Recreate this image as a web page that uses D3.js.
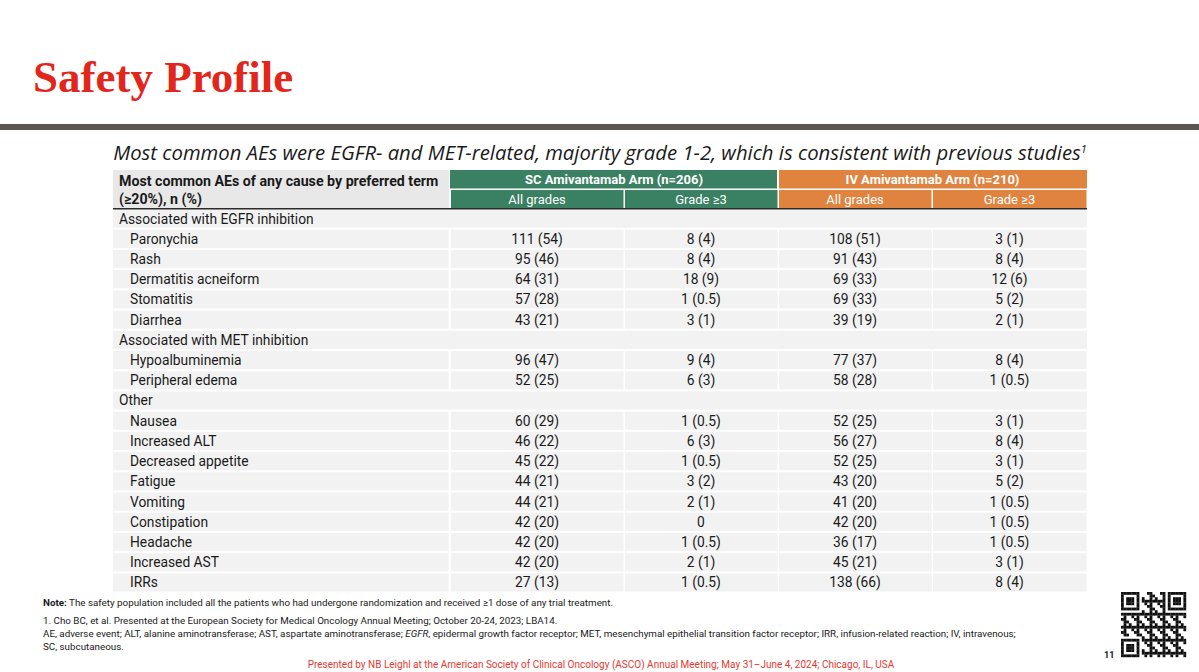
<!DOCTYPE html>
<html>
<head>
<meta charset="utf-8">
<script src="https://cdn.jsdelivr.net/npm/d3@7"></script>
<style>
  body { margin: 0; background: #fff; }
  svg { display: block; }
</style>
</head>
<body>
<script>
// table content
var groups = ["Associated with EGFR inhibition", "Associated with MET inhibition", "Other"];
var groupTerms = [
  ["Paronychia", "Rash", "Dermatitis acneiform", "Stomatitis", "Diarrhea"],
  ["Hypoalbuminemia", "Peripheral edema"],
  ["Nausea", "Increased ALT", "Decreased appetite", "Fatigue", "Vomiting", "Constipation", "Headache", "Increased AST", "IRRs"]
];
var scAll = ["111 (54)", "95 (46)", "64 (31)", "57 (28)", "43 (21)", "96 (47)", "52 (25)", "60 (29)", "46 (22)", "45 (22)", "44 (21)", "44 (21)", "42 (20)", "42 (20)", "42 (20)", "27 (13)"];
var scG3 = ["8 (4)", "8 (4)", "18 (9)", "1 (0.5)", "3 (1)", "9 (4)", "6 (3)", "1 (0.5)", "6 (3)", "1 (0.5)", "3 (2)", "2 (1)", "0", "1 (0.5)", "2 (1)", "1 (0.5)"];
var ivAll = ["108 (51)", "91 (43)", "69 (33)", "69 (33)", "39 (19)", "77 (37)", "58 (28)", "52 (25)", "56 (27)", "52 (25)", "43 (20)", "41 (20)", "42 (20)", "36 (17)", "45 (21)", "138 (66)"];
var ivG3 = ["3 (1)", "8 (4)", "12 (6)", "5 (2)", "2 (1)", "8 (4)", "1 (0.5)", "3 (1)", "8 (4)", "3 (1)", "5 (2)", "1 (0.5)", "1 (0.5)", "1 (0.5)", "3 (1)", "8 (4)"];
var arms = ["SC Amivantamab Arm (n=206)", "IV Amivantamab Arm (n=210)"];
var subHeads = ["All grades", "Grade \u22653", "All grades", "Grade \u22653"];

var w = 1199, h = 672;
var green = "#3a8062", orange = "#e0833f", cellGray = "#f2f2f2";
var font = "Roboto, 'Noto Sans', sans-serif";

// flatten groups + terms into rows
var rows = [];
var k = 0;
groups.forEach(function(g, gi){
  rows.push({type: "group", label: g});
  groupTerms[gi].forEach(function(t){
    rows.push({type: "item", label: t, vals: [scAll[k], scG3[k], ivAll[k], ivG3[k]]});
    k++;
  });
});

var svg = d3.select("body").append("svg")
  .attr("width", w)
  .attr("height", h);

// title
svg.append("text")
  .attr("x", 33).attr("y", 92)
  .style("font-family", "'Liberation Serif', serif")
  .style("font-weight", "bold")
  .style("font-size", "45px")
  .style("fill", "#e2261b")
  .text("Safety Profile");

// grey band under title
svg.append("rect")
  .attr("x", 0).attr("y", 124)
  .attr("width", w).attr("height", 6)
  .style("fill", "#5b5553");

// subtitle
var sub = svg.append("text")
  .attr("x", 600).attr("y", 160)
  .attr("text-anchor", "middle")
  .style("font-family", "'Open Sans', sans-serif")
  .style("font-style", "italic")
  .style("font-size", "20.3px")
  .style("fill", "#1a1a1a")
  .text("Most common AEs were EGFR- and MET-related, majority grade 1-2, which is consistent with previous studies");
sub.append("tspan")
  .attr("dy", -7)
  .style("font-size", "11px")
  .text("1");

// column scale (edges)
var colKeys = ["label", "scAll", "scG3", "ivAll", "ivG3"];
var colX = d3.scaleOrdinal().domain(colKeys).range([113, 450, 624, 778, 932]);
var colW = d3.scaleOrdinal().domain(colKeys).range([337, 174, 154, 154, 155]);
var tableRight = 1087;

// row scale
var y = d3.scaleBand()
  .domain(d3.range(rows.length))
  .range([209.5, 591.5])
  .paddingInner(0.1);

// header
var head = svg.append("g");
head.append("rect")
  .attr("x", colX("label")).attr("y", 170)
  .attr("width", colW("label") - 1).attr("height", 38)
  .style("fill", "#e8e8e8");
head.append("text")
  .attr("x", 119).attr("y", 186)
  .style("font-family", font).style("font-weight", "bold")
  .style("font-size", "14.2px").style("fill", "#1a1a1a")
  .text("Most common AEs of any cause by preferred term");
head.append("text")
  .attr("x", 119).attr("y", 204)
  .style("font-family", font).style("font-weight", "bold")
  .style("font-size", "14.2px").style("fill", "#1a1a1a")
  .text("(\u226520%), n (%)");

var armG = head.selectAll(".arm")
  .data(arms)
  .enter().append("g")
  .attr("class", "arm");
armG.append("rect")
  .attr("x", function(d, i){ return colX(colKeys[1 + i * 2]) + (i ? 1 : 0); })
  .attr("y", 170)
  .attr("width", function(d, i){ return colW(colKeys[1 + i * 2]) + colW(colKeys[2 + i * 2]) - 1; })
  .attr("height", 18.5)
  .style("fill", function(d, i){ return i ? orange : green; });
armG.append("text")
  .attr("x", function(d, i){ return colX(colKeys[1 + i * 2]) + (colW(colKeys[1 + i * 2]) + colW(colKeys[2 + i * 2])) / 2; })
  .attr("y", 184)
  .attr("text-anchor", "middle")
  .style("font-family", font).style("font-weight", "bold")
  .style("font-size", "13px").style("fill", "#fff")
  .text(function(d){ return d; });

var subG = head.selectAll(".subhead")
  .data(subHeads)
  .enter().append("g")
  .attr("class", "subhead");
subG.append("rect")
  .attr("x", function(d, i){ return colX(colKeys[i + 1]) + 1; })
  .attr("y", 190)
  .attr("width", function(d, i){ return colW(colKeys[i + 1]) - 1.5; })
  .attr("height", 18)
  .style("fill", function(d, i){ return i < 2 ? green : orange; });
subG.append("text")
  .attr("x", function(d, i){ return colX(colKeys[i + 1]) + colW(colKeys[i + 1]) / 2; })
  .attr("y", 204)
  .attr("text-anchor", "middle")
  .style("font-family", font)
  .style("font-size", "13px").style("fill", "#fff")
  .text(function(d){ return d; });

// rule under header
svg.append("rect")
  .attr("x", 113).attr("y", 208)
  .attr("width", tableRight - 113).attr("height", 2)
  .style("fill", "#2b2b2b");

// body rows
var body = svg.selectAll(".row")
  .data(rows)
  .enter().append("g")
  .attr("class", "row")
  .attr("transform", function(d, i){ return "translate(0," + y(i) + ")"; });

body.filter(function(d){ return d.type === "group"; })
  .append("rect")
  .attr("x", 113).attr("width", tableRight - 113)
  .attr("height", y.bandwidth())
  .style("fill", cellGray);

body.filter(function(d){ return d.type === "item"; })
  .selectAll(".cell")
  .data(function(){ return colKeys; })
  .enter().append("rect")
  .attr("class", "cell")
  .attr("x", function(c, j){ return colX(c) + (j ? 1 : 0); })
  .attr("width", function(c){ return colW(c) - 1.5; })
  .attr("height", y.bandwidth())
  .style("fill", cellGray);

body.append("text")
  .attr("x", function(d){ return d.type === "group" ? 119 : 130; })
  .attr("y", y.bandwidth() / 2 + 5)
  .style("font-family", font)
  .style("font-size", "13.8px")
  .style("fill", "#1a1a1a")
  .text(function(d){ return d.label; });

body.filter(function(d){ return d.type === "item"; })
  .selectAll(".val")
  .data(function(d){ return d.vals; })
  .enter().append("text")
  .attr("class", "val")
  .attr("x", function(v, j){ return colX(colKeys[j + 1]) + colW(colKeys[j + 1]) / 2; })
  .attr("y", y.bandwidth() / 2 + 5)
  .attr("text-anchor", "middle")
  .style("font-family", font)
  .style("font-size", "13.8px")
  .style("fill", "#1a1a1a")
  .text(function(v){ return v; });

// footnotes
var notes = svg.append("g")
  .style("font-family", font)
  .style("font-size", "9.8px")
  .style("fill", "#1a1a1a");
var n1 = notes.append("text").attr("x", 43).attr("y", 606);
n1.append("tspan").style("font-weight", "bold").text("Note:");
n1.append("tspan").text(" The safety population included all the patients who had undergone randomization and received \u22651 dose of any trial treatment.");
notes.append("text").attr("x", 43).attr("y", 624)
  .text("1. Cho BC, et al. Presented at the European Society for Medical Oncology Annual Meeting; October 20-24, 2023; LBA14.");
var n3 = notes.append("text").attr("x", 43).attr("y", 637);
n3.append("tspan").text("AE, adverse event; ALT, alanine aminotransferase; AST, aspartate aminotransferase; ");
n3.append("tspan").style("font-style", "italic").text("EGFR");
n3.append("tspan").text(", epidermal growth factor receptor; MET, mesenchymal epithelial transition factor receptor; IRR, infusion-related reaction; IV, intravenous;");
notes.append("text").attr("x", 43).attr("y", 650)
  .text("SC, subcutaneous.");

// footer
svg.append("text")
  .attr("x", 601).attr("y", 668)
  .attr("text-anchor", "middle")
  .style("font-family", font)
  .style("font-size", "10px")
  .style("fill", "#e53a30")
  .text("Presented by NB Leighl at the American Society of Clinical Oncology (ASCO) Annual Meeting; May 31\u2013June 4, 2024; Chicago, IL, USA");

// page number
svg.append("text")
  .attr("x", 1104).attr("y", 658)
  .style("font-family", font)
  .style("font-weight", "bold")
  .style("font-size", "9px")
  .style("fill", "#1a1a1a")
  .text("11");

// QR code (decorative)
var qrN = 25, qrX = 1121, qrY = 592, qrS = 65 / qrN;
var qr = svg.append("g").attr("transform", "translate(" + qrX + "," + qrY + ")");
function finder(r, c){
  var dr = r - (r < 7 ? 0 : qrN - 7), dc = c - (c < 7 ? 0 : qrN - 7);
  var m = Math.max(Math.abs(dr - 3), Math.abs(dc - 3));
  return m !== 2 && m <= 3;
}
var mods = [];
for (var r = 0; r < qrN; r++){
  for (var c = 0; c < qrN; c++){
    var inF = (r < 8 && c < 8) || (r < 8 && c >= qrN - 8) || (r >= qrN - 8 && c < 8);
    var on = inF ? (r < 7 || r >= qrN - 7) && (c < 7 || c >= qrN - 7) && finder(r, c)
                 : ((r * 7 + c * 11 + r * c * 3) % 5 < 2);
    if (on) mods.push([r, c]);
  }
}
qr.selectAll("rect")
  .data(mods)
  .enter().append("rect")
  .attr("x", function(d){ return d[1] * qrS; })
  .attr("y", function(d){ return d[0] * qrS; })
  .attr("width", qrS + 0.2)
  .attr("height", qrS + 0.2)
  .style("fill", "#111");
</script>
</body>
</html>
